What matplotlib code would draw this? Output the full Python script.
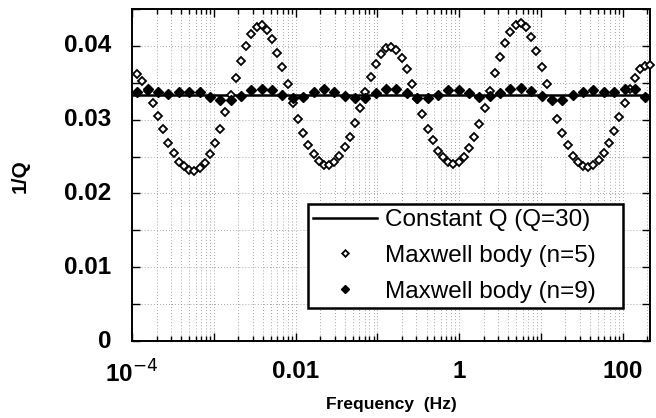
import numpy as np
import matplotlib.pyplot as plt
from matplotlib.ticker import LogLocator, NullFormatter, MultipleLocator

plt.rcParams['font.family'] = ['Liberation Sans', 'DejaVu Sans']

# frequency samples (Hz), evenly spaced in log as in the figure
freq_n5 = np.logspace(-3.935, 2.34, 100)
freq_n9 = freq_n5[::2]

q_const = 1 / 30.0

# 1/Q, Maxwell body n=5 (open markers)
invq_n5 = [
    0.0362, 0.0353, 0.0339, 0.0323, 0.0305, 0.0287, 0.0269, 0.0255, 0.0243, 0.0237,
    0.0232, 0.0231, 0.0235, 0.0241, 0.0254, 0.0269, 0.0288, 0.0310, 0.0333, 0.0357,
    0.0380, 0.0400, 0.0416, 0.0425, 0.0428, 0.0421, 0.0409, 0.0390, 0.0371, 0.0348,
    0.0323, 0.0301, 0.0282, 0.0266, 0.0253, 0.0244, 0.0239, 0.0239, 0.0242, 0.0251,
    0.0263, 0.0277, 0.0296, 0.0316, 0.0338, 0.0358, 0.0376, 0.0389, 0.0397, 0.0399,
    0.0394, 0.0383, 0.0369, 0.0349, 0.0328, 0.0307, 0.0288, 0.0272, 0.0258, 0.0249,
    0.0242, 0.0240, 0.0242, 0.0250, 0.0261, 0.0276, 0.0294, 0.0316, 0.0339, 0.0363,
    0.0385, 0.0404, 0.0419, 0.0428, 0.0431, 0.0425, 0.0412, 0.0393, 0.0372, 0.0348,
    0.0326, 0.0301, 0.0282, 0.0265, 0.0251, 0.0242, 0.0237, 0.0236, 0.0238, 0.0245,
    0.0255, 0.0268, 0.0284, 0.0304, 0.0323, 0.0342, 0.0357, 0.0368, 0.0373, 0.0374,
]

# 1/Q, Maxwell body n=9 (filled markers)
invq_n9 = [
    0.0338, 0.0342, 0.0338, 0.0335, 0.0337, 0.0338, 0.0338, 0.0331, 0.0327, 0.0326,
    0.0332, 0.0340, 0.0342, 0.0340, 0.0334, 0.0329, 0.0331, 0.0337, 0.0342, 0.0338,
    0.0332, 0.0329, 0.0330, 0.0336, 0.0342, 0.0342, 0.0336, 0.0329, 0.0329, 0.0334,
    0.0340, 0.0340, 0.0336, 0.0331, 0.0332, 0.0336, 0.0342, 0.0343, 0.0339, 0.0332,
    0.0326, 0.0327, 0.0333, 0.0338, 0.0340, 0.0338, 0.0337, 0.0342, 0.0342, 0.0331,
]

x_ticks = [1e-4, 1e-2, 1, 100]
x_ticklabels = ['10$^{-4}$', '0.01', '1', '100']
y_ticks = [0, 0.01, 0.02, 0.03, 0.04]
y_ticklabels = ['0', '0.01', '0.02', '0.03', '0.04']

fig = plt.figure(figsize=(6.56, 4.18), dpi=100)
ax = fig.add_axes([0.2012, 0.1842, 0.7897, 0.7943])

ax.set_xscale('log')
ax.set_xlim(1e-4, 10 ** 2.335)
ax.set_ylim(0, 0.045)

ax.axhline(q_const, color='black', lw=1.8, zorder=3, label='Constant Q (Q=30)')
ax.plot(freq_n5, invq_n5, ls='none', marker='D', ms=4.2, mfc='white', mec='black',
        mew=1.3, zorder=4, clip_on=False, label='Maxwell body (n=5)')
ax.plot(freq_n9, invq_n9, ls='none', marker='D', ms=4.8, mfc='black', mec='black',
        zorder=5, clip_on=False, label='Maxwell body (n=9)')

# ticks on all four sides, pointing in
ax.xaxis.set_major_locator(LogLocator(base=10, numticks=20))
ax.xaxis.set_minor_locator(LogLocator(base=10, subs=np.arange(2, 10), numticks=100))
ax.xaxis.set_major_formatter(NullFormatter())
ax.xaxis.set_minor_formatter(NullFormatter())
ax.yaxis.set_major_locator(MultipleLocator(0.005))
ax.yaxis.set_major_formatter(NullFormatter())

ax.tick_params(which='both', direction='in', top=True, right=True, width=1.0)
ax.tick_params(which='major', length=6)
ax.tick_params(which='minor', length=3.5)

ax.grid(True, which='both', color='0.45', lw=0.55, ls=(0, (1, 3)))
ax.set_axisbelow(True)

# tick labels only at some of the ticks
for lab_x, txt in zip(x_ticks, x_ticklabels):
    ax.annotate(txt, xy=(lab_x, 0), xycoords=('data', 'axes fraction'),
                xytext=(0, -14), textcoords='offset points', ha='center', va='top',
                fontsize=17.5, fontweight='bold')
for lab_y, txt in zip(y_ticks, y_ticklabels):
    ax.annotate(txt, xy=(0, lab_y), xycoords=('axes fraction', 'data'),
                xytext=(-15, 0), textcoords='offset points', ha='right', va='center',
                fontsize=17.5, fontweight='bold')

ax.set_xlabel('Frequency  (Hz)', fontsize=12.5, fontweight='bold')
ax.xaxis.set_label_coords(0.5, -0.168)
ax.set_ylabel('1/Q', fontsize=15, fontweight='bold')
ax.yaxis.set_label_coords(-0.197, 0.497)

for sp in ax.spines.values():
    sp.set_linewidth(1.4)

leg = ax.legend(loc='lower left', bbox_to_anchor=(0.34, 0.099, 0.608, 0.314), mode='expand',
                fontsize=17.5, frameon=True, fancybox=False, edgecolor='black',
                handlelength=2.6, handletextpad=0.35, labelspacing=0.57, borderpad=0.22,
                borderaxespad=0, markerscale=0.8)
leg.get_frame().set_linewidth(1.8)
leg.get_frame().set_alpha(1)
leg.set_zorder(10)

fig.savefig('out.png', dpi=100)
